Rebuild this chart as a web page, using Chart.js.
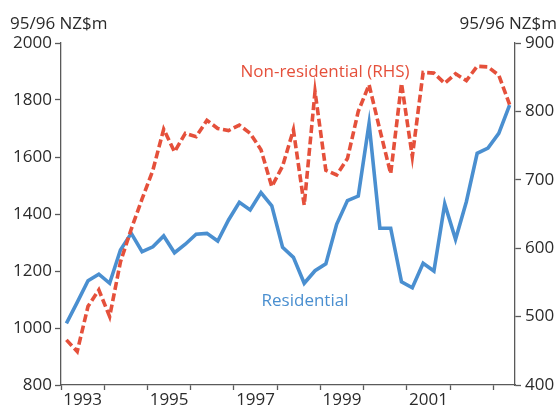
<!DOCTYPE html>
<html>
<head>
<meta charset="utf-8">
<script src="https://cdn.jsdelivr.net/npm/chart.js@4"></script>
<style>
  html, body { margin: 0; padding: 0; background: #fff; }
  #wrap { width: 558px; height: 408px; position: relative; }
</style>
</head>
<body>
<div id="wrap"><canvas id="c" width="558" height="408"></canvas></div>
<script>
// Quarterly categories
const quarters = [
  '1993Q1','1993Q2','1993Q3','1993Q4',
  '1994Q1','1994Q2','1994Q3','1994Q4',
  '1995Q1','1995Q2','1995Q3','1995Q4',
  '1996Q1','1996Q2','1996Q3','1996Q4',
  '1997Q1','1997Q2','1997Q3','1997Q4',
  '1998Q1','1998Q2','1998Q3','1998Q4',
  '1999Q1','1999Q2','1999Q3','1999Q4',
  '2000Q1','2000Q2','2000Q3','2000Q4',
  '2001Q1','2001Q2','2001Q3','2001Q4',
  '2002Q1','2002Q2','2002Q3','2002Q4',
  '2003Q1','2003Q2'
];
// Residential, 95/96 NZ$m (left axis)
const residential = [
  1016, 1090, 1166, 1189, 1157, 1274, 1332, 1268,
  1285, 1323, 1264, 1294, 1329, 1332, 1305, 1379,
  1441, 1414, 1475, 1429, 1283, 1248, 1157, 1201,
  1225, 1364, 1447, 1463, 1718, 1350, 1350, 1162,
  1141, 1227, 1200, 1435, 1311, 1443, 1613, 1631,
  1683, 1782
];
// Non-residential, 95/96 NZ$m (right axis)
const nonResidential = [
  466, 449, 515, 539, 500, 580, 628, 672,
  714, 774, 741, 768, 763, 787, 775, 772,
  780, 768, 744, 690, 720, 773, 663, 829,
  714, 707, 731, 800, 839, 773, 709, 841,
  734, 857, 856, 841, 855, 845, 866, 865,
  853, 810
];
// Axis tick labels
const xTickLabels = ['1993', '1995', '1997', '1999', '2001'];
const yearMarks = ['1993','1994','1995','1996','1997','1998','1999','2000','2001','2002','2003'];
const leftTicks = [800, 1000, 1200, 1400, 1600, 1800, 2000];
const rightTicks = [400, 500, 600, 700, 800, 900];

const FONT = '"Open Sans", "Noto Sans", sans-serif';
const BLUE = '#4a8fd0';
const RED = '#e5503b';
const AXIS = '#5a5a5a';
const TEXT = '#2b2b2b';

function qx(label) {
  const y = parseInt(label.slice(0, 4), 10);
  const q = parseInt(label.slice(5), 10);
  return y + (q - 0.5) / 4;
}
const resPts = residential.map((v, i) => ({ x: qx(quarters[i]), y: v }));
const nonPts = nonResidential.map((v, i) => ({ x: qx(quarters[i]), y: v }));

const textPlugin = {
  id: 'texts',
  afterDraw(chart) {
    const ctx = chart.ctx;
    ctx.save();
    ctx.font = '17px ' + FONT;
    ctx.fillStyle = TEXT;
    ctx.textBaseline = 'alphabetic';
    ctx.textAlign = 'left';
    ctx.fillText('95/96 NZ$m', 10, 29);
    ctx.textAlign = 'right';
    ctx.fillText('95/96 NZ$m', 557, 29);
    ctx.textAlign = 'center';
    ctx.textBaseline = 'middle';
    ctx.fillStyle = RED;
    ctx.fillText('Non-residential (RHS)', 325, 72);
    ctx.fillStyle = BLUE;
    ctx.fillText('Residential', 305, 301);
    ctx.restore();
  }
};

new Chart(document.getElementById('c'), {
  type: 'line',
  data: {
    datasets: [
      {
        label: 'Non-residential (RHS)',
        data: nonPts,
        yAxisID: 'yR',
        borderColor: RED,
        borderWidth: 3.6,
        borderDash: [8, 3.5],
        borderCapStyle: 'butt',
        pointRadius: 0,
        tension: 0,
        fill: false,
        order: 0
      },
      {
        label: 'Residential',
        data: resPts,
        yAxisID: 'yL',
        borderColor: BLUE,
        borderWidth: 3.6,
        pointRadius: 0,
        tension: 0,
        fill: false,
        order: 1
      }
    ]
  },
  options: {
    responsive: false,
    animation: false,
    events: [],
    layout: { padding: { top: 43, left: 0, right: 0, bottom: 0 } },
    plugins: { legend: { display: false }, tooltip: { enabled: false }, title: { display: false } },
    scales: {
      x: {
        type: 'linear',
        min: 1993,
        max: 2003.5,
        afterBuildTicks(scale) {
          const t = yearMarks.map(y => ({ value: parseInt(y, 10) }))
            .concat(xTickLabels.map(y => ({ value: parseInt(y, 10) + 0.5 })));
          t.sort((a, b) => a.value - b.value);
          scale.ticks = t;
        },
        afterFit(scale) { scale.height = 23; },
        border: { display: true, color: AXIS, width: 1.3 },
        grid: {
          drawOnChartArea: false,
          drawTicks: true,
          tickLength: 5,
          tickWidth: 1.3,
          tickColor: (c) => (c.tick && Number.isInteger(c.tick.value)) ? AXIS : 'rgba(0,0,0,0)'
        },
        ticks: {
          autoSkip: false,
          maxRotation: 0,
          padding: 0,
          color: TEXT,
          font: { family: FONT, size: 17 },
          callback: (v) => Number.isInteger(v) ? '' : String(v - 0.5)
        }
      },
      yL: {
        type: 'linear',
        position: 'left',
        min: 800,
        max: 2000,
        afterBuildTicks(scale) { scale.ticks = leftTicks.map(v => ({ value: v })); },
        afterFit(scale) { scale.width = 61; },
        border: { display: true, color: AXIS, width: 1.3 },
        grid: { drawOnChartArea: false, tickLength: 6, tickWidth: 1.3, tickColor: AXIS },
        ticks: { padding: 3, color: TEXT, font: { family: FONT, size: 17 }, callback: (v) => String(v) }
      },
      yR: {
        type: 'linear',
        position: 'right',
        min: 400,
        max: 900,
        afterBuildTicks(scale) { scale.ticks = rightTicks.map(v => ({ value: v })); },
        afterFit(scale) { scale.width = 43; },
        border: { display: true, color: AXIS, width: 1.3 },
        grid: { drawOnChartArea: false, tickLength: 6, tickWidth: 1.3, tickColor: AXIS },
        ticks: { padding: 4, color: TEXT, font: { family: FONT, size: 17 }, callback: (v) => String(v) }
      }
    }
  },
  plugins: [textPlugin]
});
</script>
</body>
</html>
